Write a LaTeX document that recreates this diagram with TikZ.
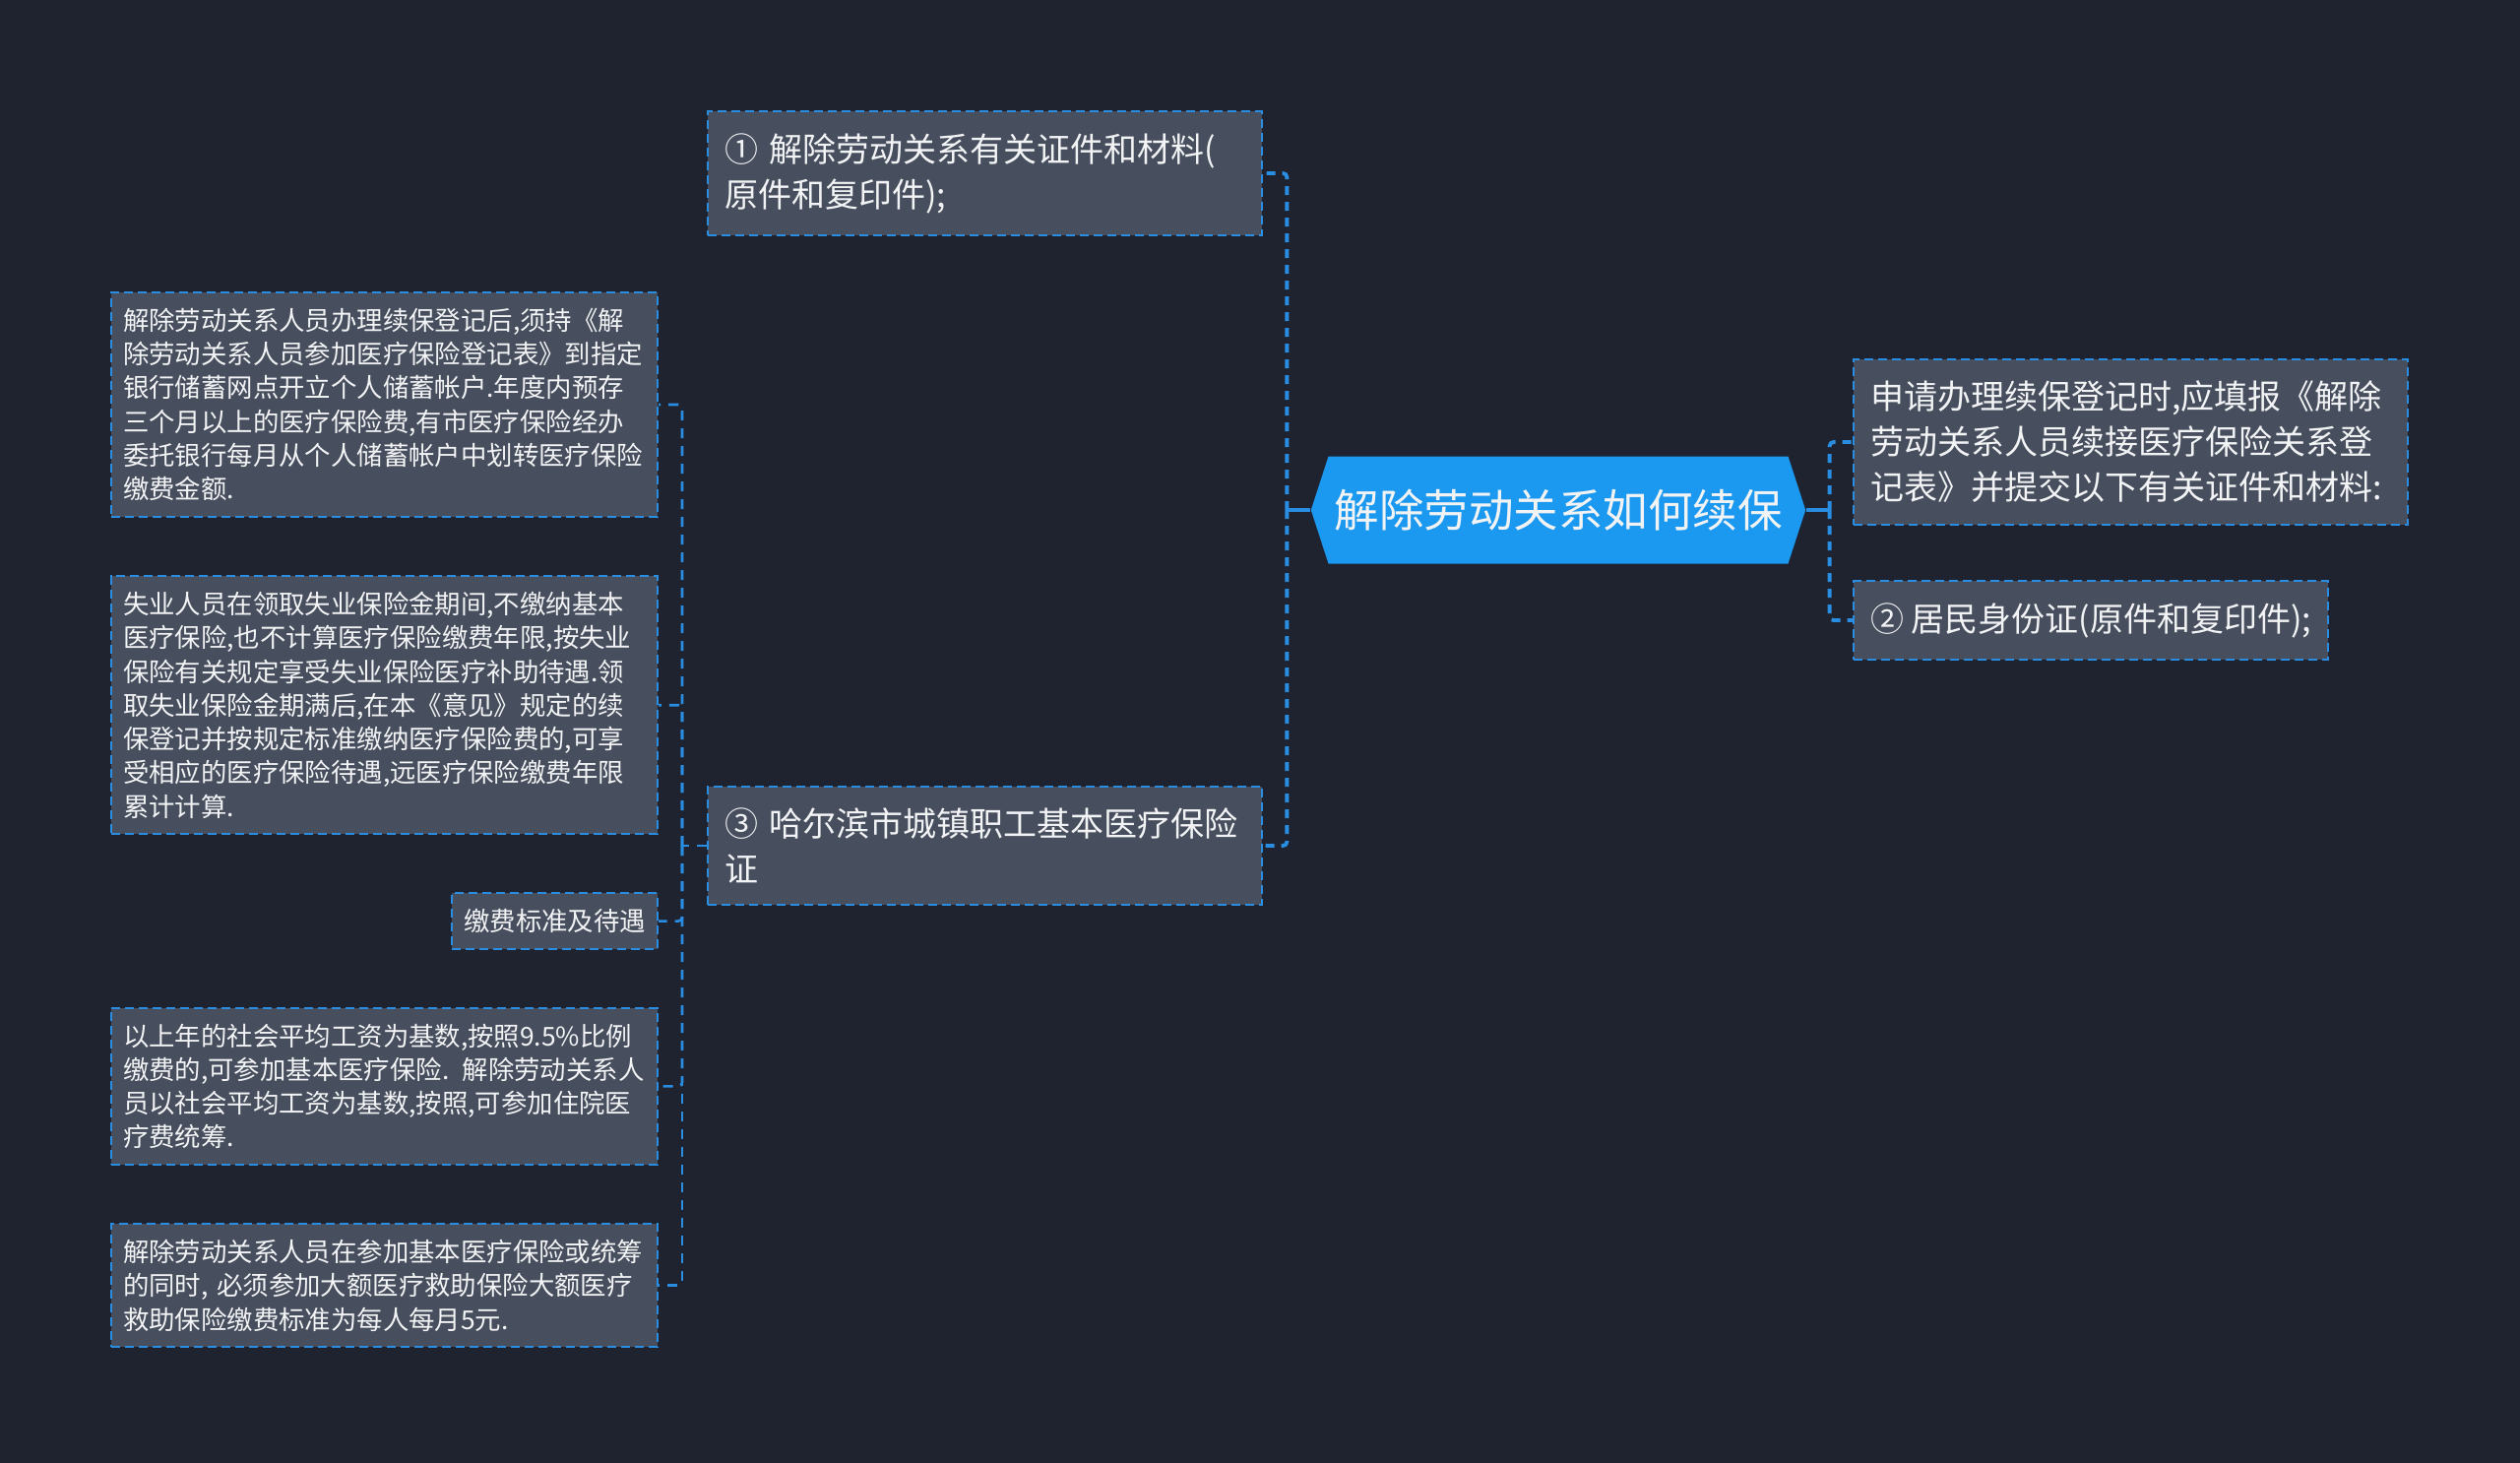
\documentclass[tikz,border=0pt]{standalone}
\usepackage{fontspec}
\setmainfont{Noto Sans CJK SC}
\usetikzlibrary{positioning,shapes.symbols}
\definecolor{NightBg}{RGB}{31,35,47}
\definecolor{SlateBox}{RGB}{71,78,93}
\definecolor{DashBlue}{RGB}{41,141,226}
\definecolor{RootBlue}{RGB}{27,152,239}
\definecolor{PaperWhite}{RGB}{242,243,245}
\tikzset{
  topic/.style={draw=DashBlue, line width=1pt, dash pattern=on 4.5pt off 2.5pt, fill=SlateBox,
    text=PaperWhite, align=left, inner xsep=8.5pt, inner ysep=11pt, font=\fontsize{17pt}{23pt}\selectfont},
  widetopic/.style={topic, text width=264.5pt},
  leaf/.style={topic, inner xsep=6pt, inner ysep=8pt, font=\fontsize{13.2pt}{17.15pt}\selectfont},
  wideleaf/.style={leaf, text width=265.5pt},
  rootbox/.style={signal, signal to=west and east, signal pointer angle=144, fill=RootBlue,
    text=PaperWhite, font=\fontsize{22.75pt}{28pt}\selectfont, minimum height=54.5pt, inner xsep=3pt},
  link/.style={draw=DashBlue, line width=1.9pt, dash pattern=on 4.5pt off 3.5pt, rounded corners=2pt},
  stub/.style={draw=DashBlue, line width=1.9pt},
  leaflink/.style={link, line width=1.3pt, dash pattern=on 5pt off 4pt},
}

\begin{document}
\begin{tikzpicture}[x=0.5pt,y=-0.5pt]
\useasboundingbox (0,0) rectangle (2560,1485);
\fill[NightBg] (-10,-10) rectangle (2570,1495);

% ---------------- central topic ----------------
\node[rootbox] (root) at (1583,518) {解除劳动关系如何续保};
\coordinate[left=12pt of root.west] (busL);
\coordinate[right=12pt of root.east] (busR);

% ---------------- left branch ----------------
\node[widetopic, anchor=east] (papers) at (1283,176) {① 解除劳动关系有关证件和材料(\\原件和复印件);};
\node[widetopic, anchor=east] (card) at (1283,859) {③ 哈尔滨市城镇职工基本医疗保险\\证};

% ---------------- right branch ----------------
\node[widetopic, anchor=west] (apply) at (1882,449)
  {申请办理续保登记时,应填报《解除\\劳动关系人员续接医疗保险关系登\\记表》并提交以下有关证件和材料:};
\node[topic, anchor=west] (idcard) at (1882,630) {② 居民身份证(原件和复印件);};

% ---------------- notes under card ----------------
\coordinate[left=12.5pt of card.west] (busLL);
\node[wideleaf, anchor=east] (bank) at (669,411)
  {解除劳动关系人员办理续保登记后,须持《解\\
   除劳动关系人员参加医疗保险登记表》到指定\\
   银行储蓄网点开立个人储蓄帐户.年度内预存\\
   三个月以上的医疗保险费,有市医疗保险经办\\
   委托银行每月从个人储蓄帐户中划转医疗保险\\
   缴费金额.};
\node[wideleaf, below=29pt of bank.south east, anchor=north east] (jobless)
  {失业人员在领取失业保险金期间,不缴纳基本\\
   医疗保险,也不计算医疗保险缴费年限,按失业\\
   保险有关规定享受失业保险医疗补助待遇.领\\
   取失业保险金期满后,在本《意见》规定的续\\
   保登记并按规定标准缴纳医疗保险费的,可享\\
   受相应的医疗保险待遇,远医疗保险缴费年限\\
   累计计算.};
\node[leaf, below=29pt of jobless.south east, anchor=north east] (fee) {缴费标准及待遇};
\node[wideleaf, below=29pt of fee.south east, anchor=north east] (base)
  {以上年的社会平均工资为基数,按照9.5\%比例\\
   缴费的,可参加基本医疗保险. 解除劳动关系人\\
   员以社会平均工资为基数,按照,可参加住院医\\
   疗费统筹.};
\node[wideleaf, below=29pt of base.south east, anchor=north east] (bigcare)
  {解除劳动关系人员在参加基本医疗保险或统筹\\
   的同时, 必须参加大额医疗救助保险大额医疗\\
   救助保险缴费标准为每人每月5元.};

% ---------------- connectors ----------------
\draw[stub] (root.west) -- (busL);
\draw[link] (busL) |- (papers.east);
\draw[link] (busL) |- (card.east);
\draw[stub] (root.east) -- (busR);
\draw[link] (busR) |- (apply.west);
\draw[link] (busR) |- (idcard.west);

\draw[leaflink] (card.west) -- (busLL);
\draw[leaflink] (busLL) |- (bank.east);
\draw[leaflink] (busLL) |- (jobless.east);
\draw[leaflink] (busLL) |- (fee.east);
\draw[leaflink] (busLL) |- (base.east);
\draw[leaflink] (busLL) |- (bigcare.east);

\end{tikzpicture}
\end{document}
